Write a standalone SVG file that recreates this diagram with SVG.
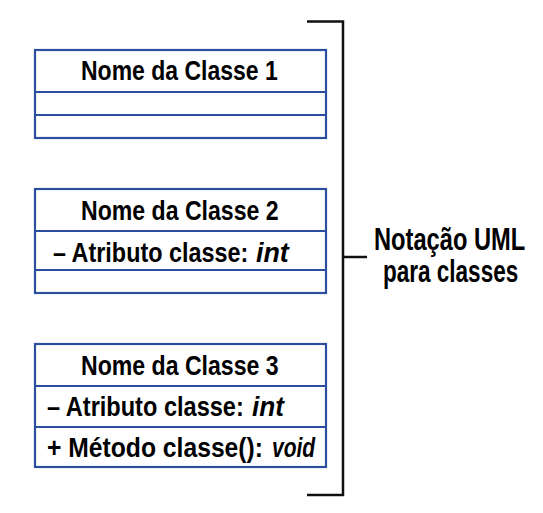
<svg xmlns="http://www.w3.org/2000/svg" width="543" height="513" viewBox="0 0 543 513">
<style>
.box{fill:#fff;stroke:#2b4f9e;stroke-width:2.2}
.div{stroke:#2b4f9e;stroke-width:2.2}
.t{font-family:"Liberation Sans",Arial,sans-serif;font-weight:bold;font-size:28px;fill:#000}
.i{font-style:italic}
.l{font-size:31px}
.br{fill:none;stroke:#111;stroke-width:2.5}
</style>
<rect width="543" height="513" fill="#fff"/>
<g id="class1">
<rect class="box" x="35" y="50" width="291" height="88"/>
<line class="div" x1="35" y1="92" x2="326" y2="92"/>
<line class="div" x1="35" y1="115" x2="326" y2="115"/>
<text class="t" transform="translate(81,80) scale(0.8,1)" textLength="246" lengthAdjust="spacingAndGlyphs">Nome da Classe 1</text>
</g>
<g id="class2">
<rect class="box" x="35" y="189" width="291" height="104"/>
<line class="div" x1="35" y1="231" x2="326" y2="231"/>
<line class="div" x1="35" y1="270" x2="326" y2="270"/>
<text class="t" transform="translate(81,220) scale(0.8,1)" textLength="247" lengthAdjust="spacingAndGlyphs">Nome da Classe 2</text>
<text class="t" transform="translate(53,262) scale(0.8,1)" textLength="244" lengthAdjust="spacingAndGlyphs">– Atributo classe:</text>
<text class="t i" transform="translate(256,262) scale(0.8,1)" textLength="41" lengthAdjust="spacingAndGlyphs">int</text>
</g>
<g id="class3">
<rect class="box" x="35" y="344" width="291" height="123"/>
<line class="div" x1="35" y1="386" x2="326" y2="386"/>
<line class="div" x1="35" y1="427" x2="326" y2="427"/>
<text class="t" transform="translate(81,375) scale(0.8,1)" textLength="247" lengthAdjust="spacingAndGlyphs">Nome da Classe 3</text>
<text class="t" transform="translate(47,416) scale(0.8,1)" textLength="246" lengthAdjust="spacingAndGlyphs">– Atributo classe:</text>
<text class="t i" transform="translate(252,416) scale(0.8,1)" textLength="40" lengthAdjust="spacingAndGlyphs">int</text>
<text class="t" transform="translate(47,457) scale(0.8,1)" textLength="270" lengthAdjust="spacingAndGlyphs">+ Método classe():</text>
<text class="t i" transform="translate(272,457) scale(0.8,1)" textLength="54" lengthAdjust="spacingAndGlyphs">void</text>
</g>
<g id="connectors">
<polyline class="br" points="307,21.5 343,21.5 343,495 307,495"/>
<line class="br" x1="343" y1="257" x2="367" y2="257"/>
</g>
<g id="label">
<text class="t l" transform="translate(374,250) scale(0.8,1)" textLength="189" lengthAdjust="spacingAndGlyphs">Notação UML</text>
<text class="t l" transform="translate(383,282) scale(0.8,1)" textLength="169" lengthAdjust="spacingAndGlyphs">para classes</text>
</g>
</svg>
